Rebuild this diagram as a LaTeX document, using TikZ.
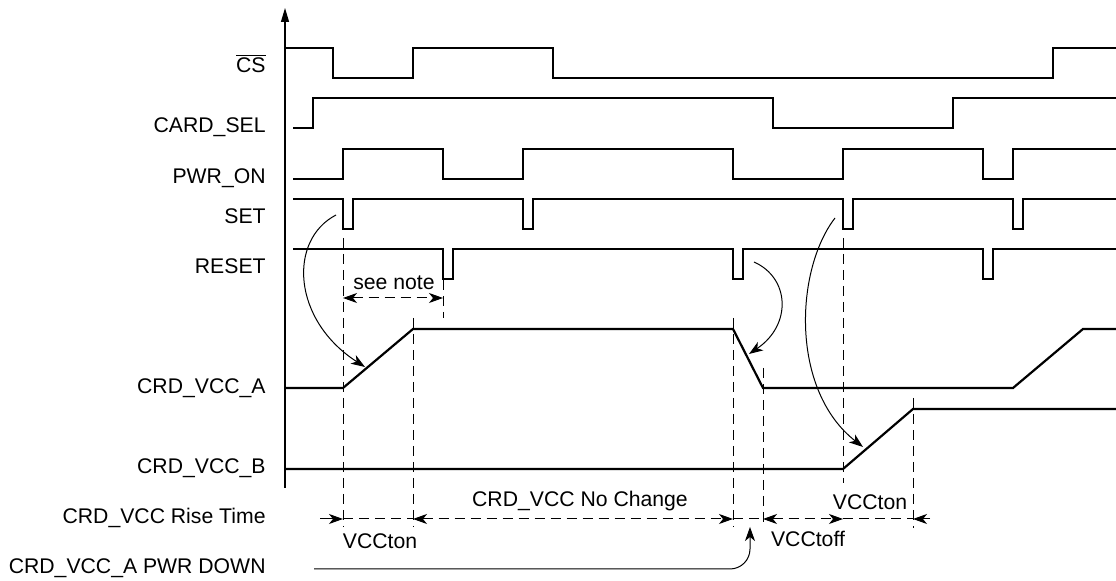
\documentclass[tikz,border=0pt]{standalone}
\usepackage{fontspec}
\setmainfont{Liberation Sans}
\usepackage{amsmath}
\usetikzlibrary{arrows.meta, calc}
\tikzset{
  signal/.style={line width=1.1pt, color=black},
  guide/.style={line width=0.5pt, dash pattern=on 5pt off 3pt},
  dimline/.style={line width=0.5pt, dash pattern=on 5pt off 3pt},
  dimarrow/.style={dimline, {Stealth[length=7pt, width=5pt, inset=2pt]}-{Stealth[length=7pt, width=5pt, inset=2pt]}},
  curvearrow/.style={line width=0.5pt, -{Stealth[length=7pt, width=5pt, inset=2pt]}},
  siglabel/.style={anchor=base east, inner sep=0pt, font=\fontsize{10.6}{12}\selectfont},
  note/.style={anchor=base, inner sep=0pt, font=\fontsize{10.6}{12}\selectfont}
}

\begin{document}
\begin{tikzpicture}[x=0.5pt, y=-0.5pt]
  \useasboundingbox (0,0) rectangle (1116,581);

  % Signal names
  \node[siglabel] (lblcs) at (266,73) {$\overline{\text{CS}}$};
  \node[siglabel] (lblcardsel) at (266,133) {CARD\_SEL};
  \node[siglabel] (lblpwron) at (266,184) {PWR\_ON};
  \node[siglabel] (lblset) at (266,224) {SET};
  \node[siglabel] (lblreset) at (266,274) {RESET};
  \node[siglabel] (lblvcca) at (266,394) {CRD\_VCC\_A};
  \node[siglabel] (lblvccb) at (266,474) {CRD\_VCC\_B};
  \node[siglabel] (lblrise) at (266,524) {CRD\_VCC Rise Time};
  \node[siglabel] (lblpwrdown) at (266,574) {CRD\_VCC\_A PWR DOWN};

  % Time axis
  \coordinate (axisbot) at (285,488);
  \coordinate (axistop) at (285,8);
  \draw[line width=0.6pt, -{Triangle[length=7pt, width=4pt]}] (axisbot) -- (axistop);

  % Waveforms
  \draw[signal] (285,48) -| (333,78) -| (413,48) -| (553,78) -| (1053,48) -- (1116,48);
  \draw[signal] (293,128) -| (313,98) -| (773,128) -| (953,98) -- (1116,98);
  \draw[signal] (293,179) -| (343,149) -| (443,179) -| (523,149) -| (733,179)
    -| (843,149) -| (983,179) -| (1013,149) -- (1116,149);
  \draw[signal] (293,199) -| (343,229) -| (353,199) -| (523,229) -| (533,199)
    -| (843,229) -| (853,199) -| (1013,229) -| (1023,199) -- (1116,199);
  \draw[signal] (293,249) -| (443,279) -| (453,249) -| (733,279) -| (743,249)
    -| (983,279) -| (993,249) -- (1116,249);
  \draw[signal] (285,388) -- (343,388) -- (413,329) -- (733,329) -- (763,388)
    -- (1013,388) -- (1083,329) -- (1116,329);
  \draw[signal] (285,469) -- (843,469) -- (913,409) -- (1116,409);

  % Timing guides
  \draw[guide] (343,238) -- (343,527);
  \draw[guide] (413,318) -- (413,527);
  \draw[guide] (443,280) -- (443,318);
  \draw[guide] (733,318) -- (733,527);
  \draw[guide] (763,368) -- (763,527);
  \draw[guide] (843,238) -- (843,483);
  \draw[guide] (913,398) -- (913,528);

  % see note
  \coordinate (notel) at (343,298);
  \coordinate (noter) at (443,298);
  \draw[dimarrow] (notel) -- (noter);
  \node[note] (seenote) at (394,290) {see note};

  % Rise time row
  \coordinate (r0) at (320,519);
  \coordinate (r1) at (343,519);
  \coordinate (r2) at (413,519);
  \coordinate (r3) at (733,519);
  \coordinate (r4) at (763,519);
  \coordinate (r5) at (843,519);
  \coordinate (r6) at (913,519);
  \coordinate (r7) at (930,519);
  \draw[curvearrow] (r0) -- (r1);
  \draw[dimline] (r1) -- (r2);
  \draw[dimarrow] (r2) -- (r3);
  \draw[dimline] (r3) -- (r4);
  \draw[dimarrow] (r4) -- (r5);
  \draw[dimline] (r5) -- (r6);
  \draw[curvearrow] (r7) -- (r6);
  \node[note] (tonleft) at (380,549) {VCCton};
  \node[note] (nochange) at (580,507) {CRD\_VCC No Change};
  \node[note] (toff) at (808,547) {VCCtoff};
  \node[note] (tonright) at (870,510) {VCCton};

  % Cause arrows
  \coordinate (setfirst) at (336,215);
  \coordinate (vccarise) at (365,367);
  \draw[curvearrow] (setfirst) .. controls (288,240) and (292,320) .. (vccarise);
  \coordinate (resetsecond) at (754,262);
  \coordinate (vccafall) at (749,354);
  \draw[curvearrow] (resetsecond) .. controls (790,278) and (792,325) .. (vccafall);
  \coordinate (setthird) at (835,218);
  \coordinate (vccbrise) at (863,447);
  \draw[curvearrow] (setthird) .. controls (795,270) and (790,390) .. (vccbrise);

  % Power down path
  \coordinate (pdstart) at (314,569);
  \coordinate (pdend) at (750,527);
  \draw[curvearrow, rounded corners=10pt] (pdstart) -| (pdend);
\end{tikzpicture}
\end{document}
